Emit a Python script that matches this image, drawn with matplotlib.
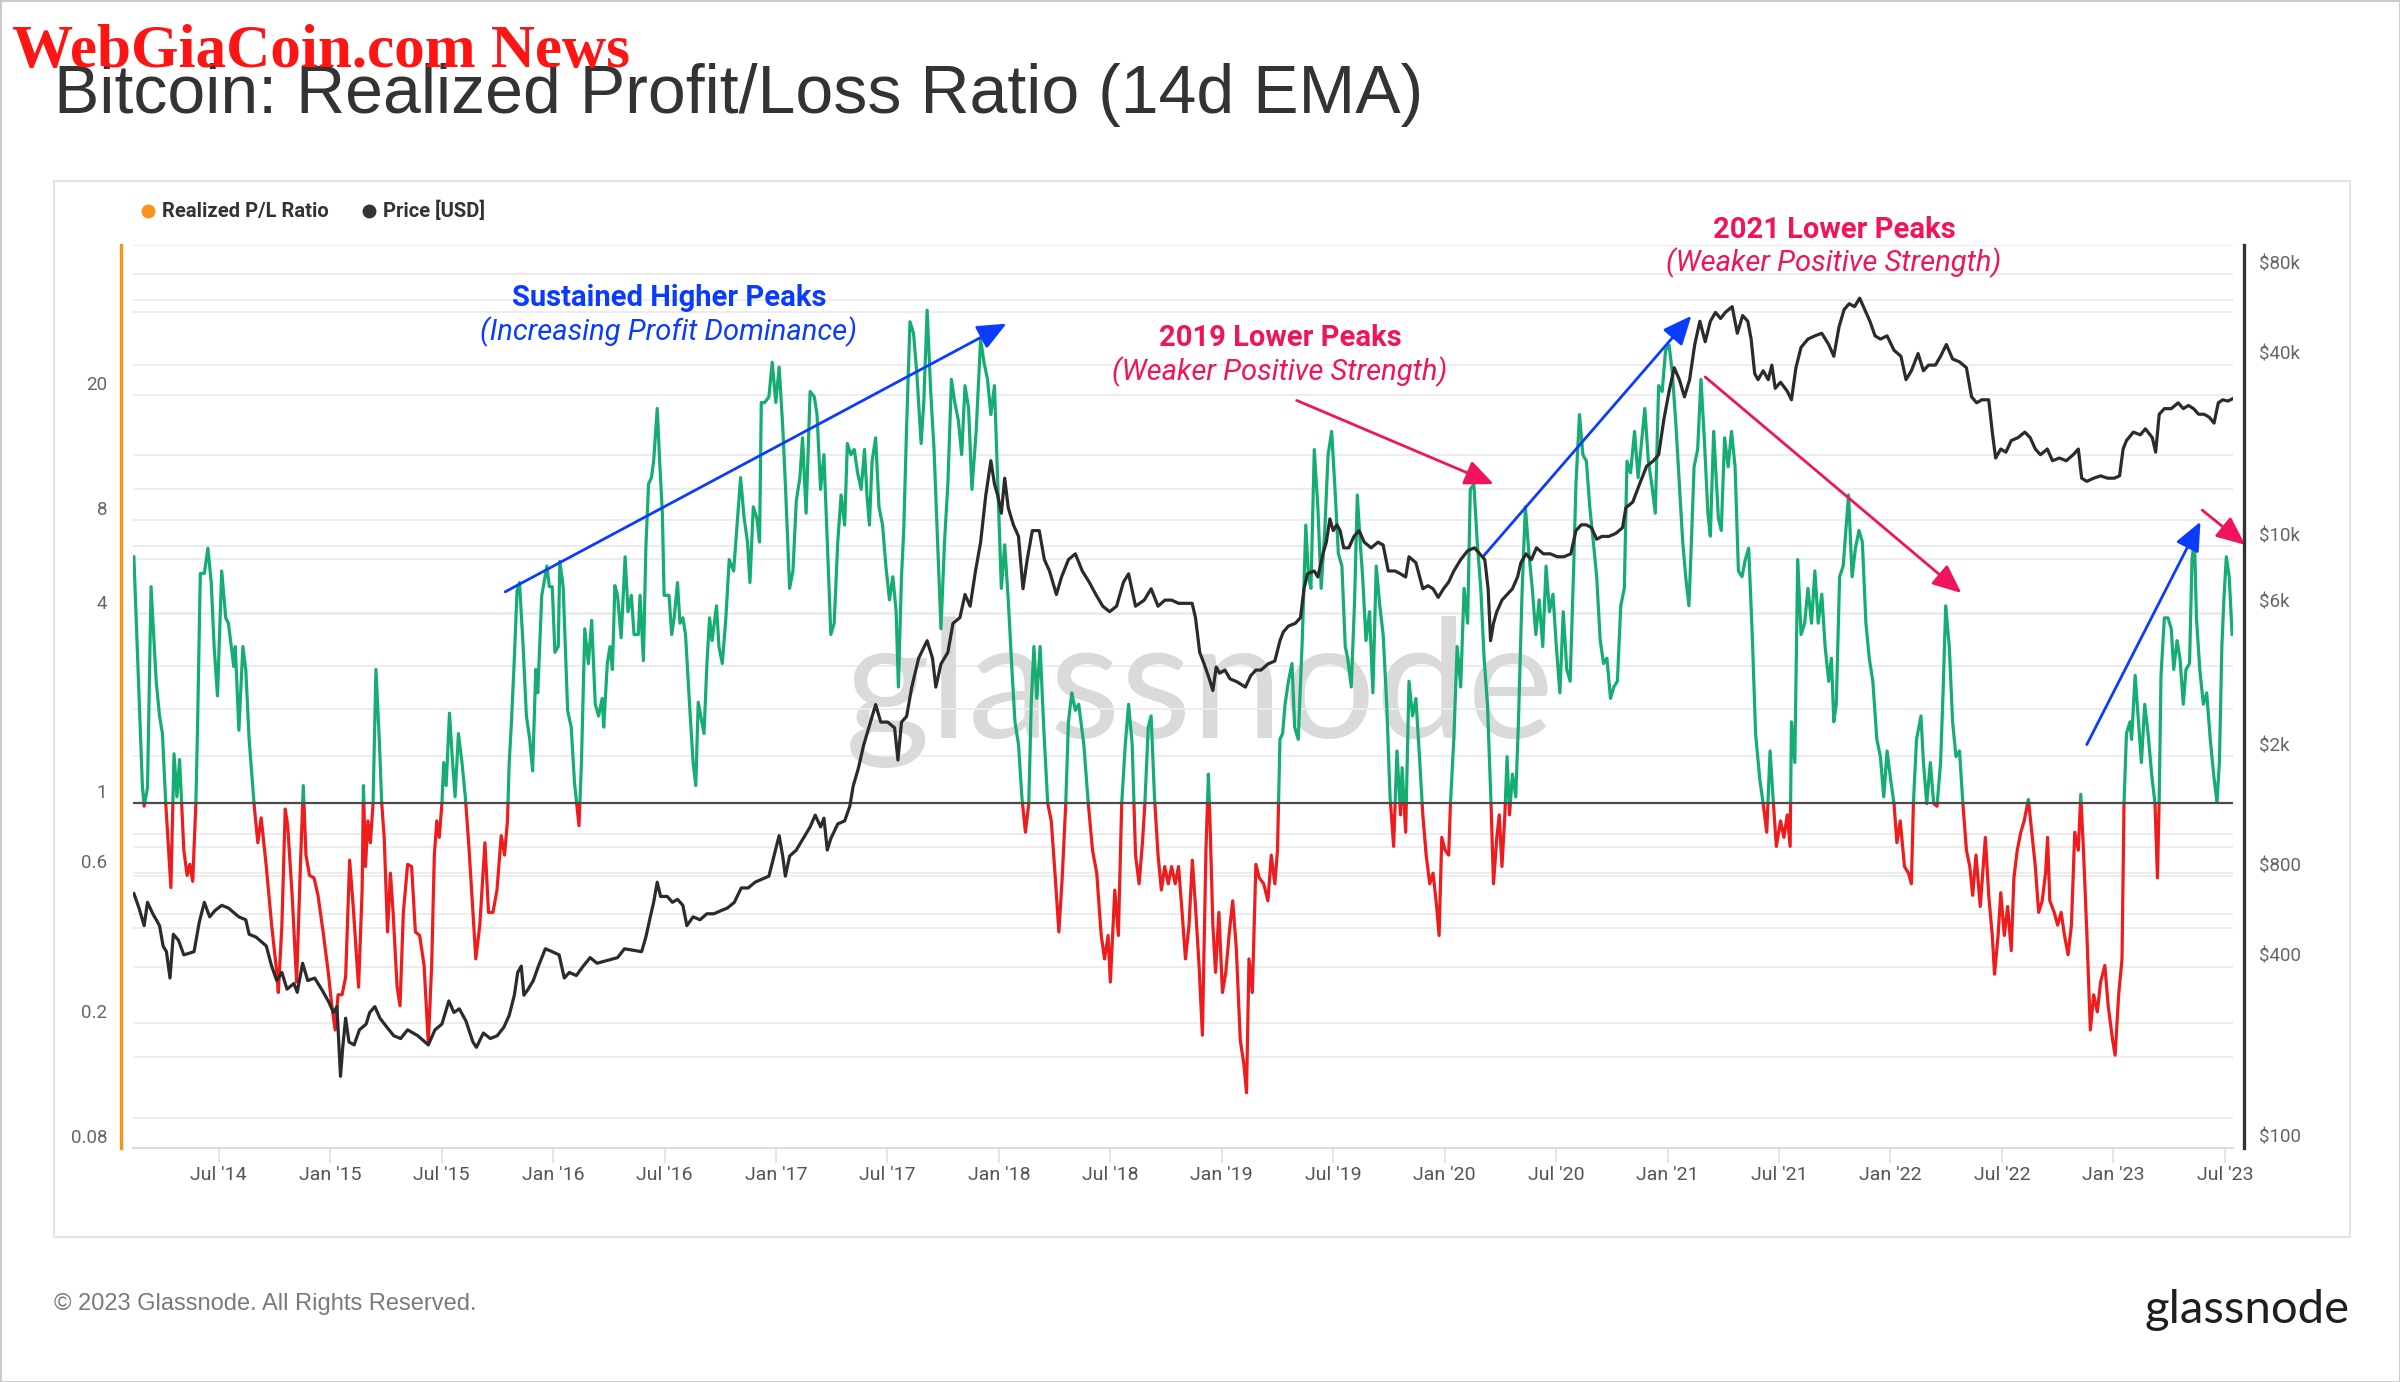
import numpy as np
import matplotlib
matplotlib.use('Agg')
import matplotlib.pyplot as plt
from matplotlib import transforms
from matplotlib.patches import Rectangle
from matplotlib.lines import Line2D

# Realized P/L ratio (14d EMA): (decimal year, ratio)
ratio_pts = [
    (2014.119, 6.1), (2014.157, 1.14), (2014.165, 0.98), (2014.180, 1.12), (2014.196, 4.9), (2014.219, 2.45),
    (2014.234, 1.9), (2014.247, 1.67), (2014.262, 1.0), (2014.285, 0.54), (2014.299, 1.44), (2014.312, 1.05),
    (2014.324, 1.38), (2014.343, 0.71), (2014.358, 0.59), (2014.370, 0.64), (2014.383, 0.565), (2014.397, 1.0),
    (2014.404, 1.67), (2014.417, 5.4), (2014.435, 5.4), (2014.451, 6.5), (2014.466, 5.05), (2014.479, 3.16),
    (2014.494, 2.2), (2014.513, 5.5), (2014.531, 3.9), (2014.543, 3.75), (2014.567, 2.73), (2014.574, 3.16),
    (2014.590, 1.71), (2014.608, 3.16), (2014.621, 2.67), (2014.636, 1.6), (2014.659, 0.98), (2014.675, 0.75),
    (2014.690, 0.90), (2014.713, 0.63), (2014.737, 0.41), (2014.760, 0.29), (2014.767, 0.25), (2014.783, 0.41),
    (2014.798, 0.96), (2014.809, 0.85), (2014.829, 0.51), (2014.849, 0.27), (2014.865, 0.60), (2014.879, 1.14),
    (2014.891, 0.685), (2014.907, 0.59), (2014.927, 0.58), (2014.945, 0.51), (2014.968, 0.39), (2014.991, 0.29),
    (2015.007, 0.227), (2015.022, 0.19), (2015.035, 0.246), (2015.053, 0.246), (2015.069, 0.28), (2015.087, 0.66),
    (2015.103, 0.47), (2015.127, 0.26), (2015.143, 0.53), (2015.149, 1.14), (2015.158, 0.63), (2015.169, 0.88),
    (2015.180, 0.75), (2015.192, 1.0), (2015.205, 2.67), (2015.220, 1.6), (2015.231, 1.0), (2015.242, 0.78),
    (2015.257, 0.39), (2015.270, 0.60), (2015.282, 0.45), (2015.300, 0.26), (2015.313, 0.227), (2015.328, 0.45),
    (2015.347, 0.64), (2015.365, 0.63), (2015.382, 0.39), (2015.401, 0.38), (2015.421, 0.305), (2015.440, 0.172),
    (2015.455, 0.305), (2015.467, 0.685), (2015.478, 0.88), (2015.489, 0.78), (2015.501, 1.0), (2015.509, 1.35),
    (2015.520, 1.14), (2015.535, 1.94), (2015.548, 1.38), (2015.560, 1.05), (2015.575, 1.67), (2015.591, 1.35),
    (2015.606, 1.05), (2015.622, 0.73), (2015.640, 0.45), (2015.653, 0.32), (2015.671, 0.41), (2015.694, 0.75),
    (2015.710, 0.45), (2015.730, 0.45), (2015.748, 0.53), (2015.767, 0.79), (2015.782, 0.685), (2015.795, 0.88),
    (2015.803, 1.35), (2015.813, 1.82), (2015.826, 2.9), (2015.838, 4.74), (2015.849, 5.05), (2015.864, 3.3),
    (2015.880, 1.9), (2015.895, 1.6), (2015.908, 1.27), (2015.922, 2.67), (2015.931, 2.25), (2015.949, 4.6),
    (2015.972, 5.7), (2015.983, 4.9), (2015.996, 4.9), (2016.008, 3.03), (2016.023, 3.16), (2016.030, 5.9),
    (2016.045, 4.9), (2016.065, 1.98), (2016.081, 1.75), (2016.096, 1.16), (2016.107, 0.98), (2016.116, 0.85),
    (2016.127, 1.35), (2016.142, 3.6), (2016.158, 2.79), (2016.173, 3.83), (2016.189, 2.07), (2016.204, 1.9),
    (2016.220, 2.16), (2016.227, 1.75), (2016.243, 2.79), (2016.255, 3.16), (2016.266, 2.67), (2016.277, 4.94),
    (2016.289, 4.6), (2016.305, 3.37), (2016.323, 6.1), (2016.336, 4.08), (2016.351, 4.6), (2016.363, 3.45),
    (2016.382, 3.45), (2016.390, 4.6), (2016.405, 2.85), (2016.416, 6.5), (2016.428, 10.4), (2016.441, 10.9),
    (2016.451, 12.3), (2016.467, 18.1), (2016.478, 12.3), (2016.490, 8.4), (2016.498, 4.6),
    (2016.520, 4.6), (2016.532, 3.45), (2016.543, 3.9), (2016.558, 5.05), (2016.569, 3.75), (2016.582, 3.9),
    (2016.594, 3.45), (2016.612, 2.07), (2016.628, 1.35), (2016.640, 1.14), (2016.651, 2.1), (2016.667, 1.82),
    (2016.677, 1.67), (2016.690, 2.79), (2016.702, 3.9), (2016.713, 3.3), (2016.733, 4.26), (2016.744, 3.16),
    (2016.759, 2.79), (2016.775, 3.9), (2016.790, 5.98), (2016.810, 5.5), (2016.829, 8.4), (2016.841, 10.9),
    (2016.857, 8.1), (2016.872, 6.8), (2016.883, 5.05), (2016.898, 8.8), (2016.914, 8.1), (2016.926, 6.8),
    (2016.934, 18.9), (2016.949, 18.9), (2016.968, 19.7), (2016.983, 25.4), (2016.999, 18.9), (2017.014, 24.5),
    (2017.030, 15.9), (2017.042, 10.4), (2017.061, 4.84), (2017.076, 5.5), (2017.091, 9.2), (2017.107, 10.9),
    (2017.119, 14.6), (2017.135, 8.4), (2017.153, 20.5), (2017.172, 19.7), (2017.184, 17.3), (2017.200, 10.0),
    (2017.215, 12.9), (2017.230, 6.8), (2017.246, 3.45), (2017.261, 3.75), (2017.277, 6.8), (2017.292, 9.6),
    (2017.308, 7.7), (2017.320, 14.0), (2017.336, 12.9), (2017.351, 13.4), (2017.366, 11.3), (2017.382, 10.0),
    (2017.397, 13.4), (2017.408, 9.6), (2017.419, 7.7), (2017.431, 12.3), (2017.447, 14.6), (2017.462, 8.8),
    (2017.478, 7.7), (2017.493, 5.7), (2017.509, 4.45), (2017.524, 5.27), (2017.539, 4.08), (2017.549, 2.35),
    (2017.563, 5.27), (2017.573, 7.4), (2017.586, 15.9), (2017.601, 34.2), (2017.617, 31.4), (2017.632, 23.3),
    (2017.651, 14.0), (2017.663, 18.9), (2017.678, 37.2), (2017.694, 20.5), (2017.709, 13.4), (2017.725, 6.8),
    (2017.740, 3.6), (2017.756, 6.8), (2017.771, 10.4), (2017.787, 22.4), (2017.802, 18.9), (2017.818, 16.6),
    (2017.833, 12.9), (2017.848, 21.4), (2017.864, 18.1), (2017.879, 10.0), (2017.898, 15.3), (2017.918, 30.1),
    (2017.933, 25.4), (2017.949, 22.4), (2017.964, 17.3), (2017.980, 21.4), (2017.995, 10.4), (2018.011, 4.84),
    (2018.026, 6.66), (2018.042, 4.45), (2018.057, 2.79), (2018.072, 1.82), (2018.088, 1.54), (2018.103, 1.05),
    (2018.119, 0.81), (2018.134, 1.0), (2018.145, 2.07), (2018.157, 3.16), (2018.170, 2.16), (2018.185, 3.16),
    (2018.201, 1.75), (2018.219, 1.0), (2018.235, 0.88), (2018.253, 0.58), (2018.269, 0.39), (2018.284, 0.58),
    (2018.300, 1.0), (2018.312, 1.82), (2018.327, 2.25), (2018.343, 1.98), (2018.358, 2.07), (2018.381, 1.54),
    (2018.401, 1.0), (2018.420, 0.71), (2018.439, 0.60), (2018.459, 0.38), (2018.474, 0.32), (2018.490, 0.38),
    (2018.500, 0.27), (2018.520, 0.53), (2018.536, 0.38), (2018.551, 1.0), (2018.567, 1.54), (2018.582, 2.07),
    (2018.598, 1.54), (2018.613, 0.685), (2018.629, 0.555), (2018.644, 0.75), (2018.655, 1.0), (2018.670, 1.75),
    (2018.683, 1.9), (2018.698, 1.05), (2018.714, 0.685), (2018.729, 0.53), (2018.744, 0.63), (2018.760, 0.555),
    (2018.775, 0.63), (2018.791, 0.555), (2018.806, 0.63), (2018.822, 0.45), (2018.837, 0.32), (2018.853, 0.41),
    (2018.868, 0.66), (2018.882, 0.47), (2018.898, 0.305), (2018.913, 0.183), (2018.929, 0.71), (2018.940, 1.24),
    (2018.947, 0.88), (2018.960, 0.41), (2018.972, 0.29), (2018.987, 0.45), (2019.003, 0.25), (2019.018, 0.29),
    (2019.034, 0.39), (2019.049, 0.49), (2019.065, 0.347), (2019.083, 0.176), (2019.099, 0.148), (2019.111, 0.12),
    (2019.122, 0.32), (2019.137, 0.25), (2019.153, 0.64), (2019.168, 0.58), (2019.188, 0.555), (2019.207, 0.49),
    (2019.222, 0.685), (2019.238, 0.555), (2019.250, 0.71), (2019.261, 1.6), (2019.273, 1.67), (2019.284, 2.07),
    (2019.299, 2.45), (2019.315, 2.79), (2019.327, 1.75), (2019.343, 1.6), (2019.361, 3.3), (2019.377, 7.7),
    (2019.389, 5.27), (2019.400, 4.84), (2019.415, 13.4), (2019.431, 8.8), (2019.446, 4.84), (2019.462, 7.4),
    (2019.477, 12.9), (2019.493, 15.3), (2019.508, 10.0), (2019.523, 6.25), (2019.539, 5.7), (2019.554, 3.16),
    (2019.565, 2.9), (2019.581, 2.35), (2019.596, 4.45), (2019.608, 9.6), (2019.621, 6.8), (2019.632, 5.27),
    (2019.647, 3.3), (2019.663, 4.08), (2019.678, 2.25), (2019.693, 5.7), (2019.709, 4.26), (2019.724, 3.45),
    (2019.740, 2.07), (2019.755, 1.05), (2019.771, 0.73), (2019.786, 1.47), (2019.802, 0.92), (2019.809, 1.3),
    (2019.825, 0.81), (2019.840, 2.45), (2019.856, 1.9), (2019.871, 2.16), (2019.887, 1.41), (2019.902, 0.92),
    (2019.917, 0.685), (2019.933, 0.555), (2019.948, 0.60), (2019.964, 0.47), (2019.975, 0.38), (2019.987, 0.78),
    (2020.002, 0.71), (2020.018, 0.685), (2020.026, 1.0), (2020.041, 1.6), (2020.056, 3.16), (2020.072, 2.35),
    (2020.087, 4.84), (2020.103, 3.75), (2020.115, 10.0), (2020.131, 10.4), (2020.146, 6.8), (2020.162, 4.84),
    (2020.177, 2.9), (2020.192, 2.07), (2020.208, 1.0), (2020.219, 0.555), (2020.234, 0.78), (2020.245, 0.92),
    (2020.257, 0.63), (2020.270, 0.92), (2020.280, 1.41), (2020.291, 0.92), (2020.304, 1.24), (2020.319, 1.05),
    (2020.331, 1.82), (2020.347, 4.64), (2020.362, 8.8), (2020.378, 6.25), (2020.393, 4.84), (2020.409, 3.45),
    (2020.424, 4.45), (2020.440, 3.16), (2020.455, 5.7), (2020.470, 4.08), (2020.486, 4.64), (2020.501, 3.16),
    (2020.517, 2.25), (2020.532, 4.08), (2020.548, 2.67), (2020.563, 2.45), (2020.579, 5.7), (2020.589, 10.4),
    (2020.605, 17.3), (2020.620, 12.9), (2020.636, 12.3), (2020.651, 8.8), (2020.667, 6.8), (2020.682, 5.27),
    (2020.698, 3.3), (2020.713, 2.79), (2020.728, 2.9), (2020.744, 2.16), (2020.759, 2.35), (2020.775, 2.45),
    (2020.790, 4.26), (2020.806, 4.84), (2020.818, 12.3), (2020.834, 11.3), (2020.852, 15.3), (2020.868, 10.9),
    (2020.883, 14.0), (2020.898, 18.1), (2020.914, 12.3), (2020.929, 10.4), (2020.945, 8.4), (2020.960, 21.4),
    (2020.976, 20.5), (2020.991, 27.7), (2021.007, 28.8), (2021.022, 23.3), (2021.038, 15.9), (2021.053, 10.4),
    (2021.068, 6.8), (2021.084, 5.05), (2021.096, 4.26), (2021.107, 6.8), (2021.119, 11.8), (2021.135, 13.4),
    (2021.150, 22.4), (2021.166, 14.0), (2021.181, 8.4), (2021.192, 7.1), (2021.207, 15.3),
    (2021.228, 8.1), (2021.241, 7.4), (2021.256, 14.6), (2021.272, 11.8), (2021.287, 15.3), (2021.303, 11.8),
    (2021.318, 5.5), (2021.334, 5.27), (2021.349, 5.98), (2021.364, 6.5), (2021.380, 3.45), (2021.395, 1.67),
    (2021.414, 1.19), (2021.429, 1.0), (2021.445, 0.81), (2021.460, 1.47), (2021.473, 1.05), (2021.488, 0.73),
    (2021.507, 0.88), (2021.522, 0.78), (2021.537, 0.92), (2021.550, 0.73), (2021.556, 1.82), (2021.571, 1.35),
    (2021.584, 5.98), (2021.599, 3.45), (2021.615, 3.75), (2021.630, 4.84), (2021.646, 3.75), (2021.661, 5.5),
    (2021.676, 3.75), (2021.692, 4.64), (2021.707, 3.16), (2021.723, 2.45), (2021.735, 2.9), (2021.746, 1.82),
    (2021.757, 2.07), (2021.772, 5.27), (2021.788, 5.7), (2021.800, 7.4), (2021.812, 9.6), (2021.828, 5.27),
    (2021.843, 6.5), (2021.859, 7.4), (2021.874, 6.8), (2021.890, 3.75), (2021.905, 2.9), (2021.921, 2.45),
    (2021.939, 1.6), (2021.955, 1.41), (2021.970, 1.05), (2021.985, 1.47), (2022.001, 1.19), (2022.016, 1.0),
    (2022.029, 0.75), (2022.044, 0.88), (2022.063, 0.63), (2022.081, 0.60), (2022.094, 0.555), (2022.103, 1.0),
    (2022.117, 1.6), (2022.137, 1.9), (2022.148, 1.35), (2022.163, 1.0), (2022.179, 1.35), (2022.194, 1.0),
    (2022.209, 0.98), (2022.225, 1.35), (2022.237, 2.35), (2022.248, 4.26), (2022.264, 3.16), (2022.279, 1.82),
    (2022.294, 1.41), (2022.310, 1.47), (2022.325, 1.0), (2022.341, 0.71), (2022.356, 0.63), (2022.369, 0.51),
    (2022.384, 0.685), (2022.403, 0.47), (2022.426, 0.78), (2022.441, 0.51), (2022.457, 0.38), (2022.467, 0.286),
    (2022.483, 0.38), (2022.495, 0.52), (2022.511, 0.38), (2022.526, 0.47), (2022.542, 0.34), (2022.554, 0.58),
    (2022.569, 0.71), (2022.585, 0.81), (2022.600, 0.88), (2022.619, 1.03), (2022.634, 0.81), (2022.650, 0.63),
    (2022.665, 0.45), (2022.681, 0.49), (2022.696, 0.60), (2022.705, 0.78), (2022.715, 0.49), (2022.735, 0.45),
    (2022.750, 0.41), (2022.766, 0.45), (2022.781, 0.38), (2022.797, 0.33), (2022.812, 0.41), (2022.827, 0.81),
    (2022.843, 0.71), (2022.854, 1.07), (2022.866, 0.71), (2022.881, 0.39), (2022.897, 0.19), (2022.912, 0.246),
    (2022.928, 0.217), (2022.943, 0.27), (2022.962, 0.305), (2022.977, 0.227), (2022.997, 0.176), (2023.008, 0.158),
    (2023.024, 0.246), (2023.039, 0.32), (2023.048, 1.0), (2023.059, 1.67), (2023.075, 1.82), (2023.082, 1.6),
    (2023.098, 2.56), (2023.113, 1.82), (2023.126, 1.35), (2023.141, 2.07), (2023.156, 1.67), (2023.172, 1.24),
    (2023.187, 1.0), (2023.198, 0.58), (2023.206, 1.05), (2023.214, 2.56), (2023.229, 3.9), (2023.245, 3.9),
    (2023.260, 3.6), (2023.271, 2.67), (2023.286, 3.3), (2023.299, 2.9), (2023.314, 2.07), (2023.326, 2.67),
    (2023.342, 2.79), (2023.353, 5.98), (2023.364, 7.0), (2023.373, 3.9), (2023.388, 2.67), (2023.404, 2.07),
    (2023.419, 2.25), (2023.435, 1.6), (2023.450, 1.24), (2023.465, 1.01), (2023.476, 1.35), (2023.487, 3.16),
    (2023.496, 4.45), (2023.507, 6.1), (2023.520, 5.27), (2023.533, 3.45),
]

# BTC price in USD: (decimal year, price)
price_pts = [
    (2014.119, 700), (2014.142, 627), (2014.165, 548), (2014.180, 655), (2014.204, 600), (2014.234, 548),
    (2014.250, 469), (2014.265, 449), (2014.281, 367), (2014.296, 513), (2014.319, 490), (2014.343, 438),
    (2014.389, 449), (2014.412, 561), (2014.435, 655), (2014.459, 586), (2014.482, 614), (2014.513, 640),
    (2014.543, 627), (2014.590, 586), (2014.621, 573), (2014.636, 513), (2014.667, 502), (2014.713, 469),
    (2014.737, 402), (2014.760, 360), (2014.783, 383), (2014.806, 337), (2014.837, 352), (2014.852, 329),
    (2014.876, 411), (2014.899, 360), (2014.930, 367), (2014.961, 337), (2014.991, 308), (2015.015, 282),
    (2015.030, 295), (2015.046, 173), (2015.056, 216), (2015.069, 270), (2015.084, 225), (2015.107, 220),
    (2015.131, 247), (2015.161, 258), (2015.177, 282), (2015.200, 295), (2015.223, 270), (2015.254, 252),
    (2015.285, 236), (2015.316, 231), (2015.347, 247), (2015.393, 236), (2015.440, 220), (2015.470, 247),
    (2015.501, 258), (2015.532, 308), (2015.555, 282), (2015.579, 290), (2015.609, 264), (2015.640, 225),
    (2015.656, 216), (2015.687, 241), (2015.718, 231), (2015.749, 236), (2015.779, 252), (2015.803, 276),
    (2015.826, 322), (2015.841, 383), (2015.857, 402), (2015.869, 322), (2015.888, 337), (2015.911, 360),
    (2015.934, 402), (2015.965, 459), (2015.996, 449), (2016.027, 438), (2016.050, 367), (2016.073, 383),
    (2016.104, 374), (2016.135, 402), (2016.166, 429), (2016.197, 411), (2016.243, 420), (2016.289, 429),
    (2016.320, 459), (2016.359, 454), (2016.397, 449), (2016.416, 502), (2016.436, 586), (2016.451, 655),
    (2016.467, 764), (2016.482, 685), (2016.512, 685), (2016.535, 655), (2016.558, 670), (2016.582, 640),
    (2016.600, 548), (2016.628, 586), (2016.659, 573), (2016.690, 600), (2016.721, 600), (2016.752, 614),
    (2016.782, 627), (2016.813, 655), (2016.844, 731), (2016.875, 731), (2016.906, 764), (2016.937, 782),
    (2016.968, 800), (2016.991, 933), (2017.014, 1091), (2017.030, 933), (2017.042, 800), (2017.061, 933),
    (2017.091, 977), (2017.122, 1067), (2017.153, 1166), (2017.176, 1276), (2017.200, 1166), (2017.215, 1247),
    (2017.230, 977), (2017.246, 1067), (2017.277, 1193), (2017.308, 1221), (2017.331, 1365), (2017.346, 1592),
    (2017.369, 1820), (2017.393, 2177), (2017.416, 2488), (2017.447, 2973), (2017.470, 2600), (2017.501, 2600),
    (2017.532, 2488), (2017.547, 1945), (2017.563, 2600), (2017.586, 2717), (2017.609, 3398), (2017.640, 4240),
    (2017.678, 4845), (2017.702, 4240), (2017.717, 3398), (2017.740, 4055), (2017.771, 4430), (2017.794, 5534),
    (2017.825, 5780), (2017.848, 6900), (2017.871, 6310), (2017.895, 8260), (2017.918, 10300), (2017.941, 14700),
    (2017.964, 19200), (2017.980, 16100), (2017.995, 14700), (2018.011, 12850), (2018.026, 16800), (2018.042, 13400),
    (2018.065, 11760), (2018.088, 10760), (2018.108, 7210), (2018.127, 9010), (2018.150, 11250), (2018.181, 11250),
    (2018.204, 9010), (2018.227, 8260), (2018.258, 6900), (2018.281, 7890), (2018.312, 9010), (2018.343, 9420),
    (2018.374, 8260), (2018.405, 7590), (2018.435, 6900), (2018.466, 6310), (2018.497, 6050), (2018.528, 6310),
    (2018.559, 7590), (2018.582, 8080), (2018.613, 6310), (2018.652, 6610), (2018.683, 7210), (2018.714, 6310),
    (2018.745, 6610), (2018.775, 6610), (2018.806, 6450), (2018.837, 6450), (2018.867, 6450), (2018.882, 5780),
    (2018.901, 4430), (2018.921, 4055), (2018.944, 3620), (2018.960, 3310), (2018.975, 3960), (2018.990, 3780),
    (2019.014, 3870), (2019.037, 3620), (2019.068, 3540), (2019.106, 3398), (2019.130, 3710), (2019.153, 3870),
    (2019.176, 3870), (2019.207, 4055), (2019.238, 4150), (2019.261, 4845), (2019.276, 5180), (2019.299, 5420),
    (2019.330, 5534), (2019.353, 5780), (2019.369, 7210), (2019.384, 8080), (2019.415, 8260), (2019.431, 7890),
    (2019.454, 9420), (2019.469, 10300), (2019.485, 12300), (2019.500, 11250), (2019.516, 11760), (2019.531, 11250),
    (2019.547, 9860), (2019.570, 9860), (2019.593, 10760), (2019.616, 11250), (2019.639, 10300), (2019.670, 9860),
    (2019.701, 10300), (2019.724, 10070), (2019.747, 8260), (2019.778, 8260), (2019.802, 8080), (2019.825, 7890),
    (2019.840, 9210), (2019.871, 8800), (2019.902, 7210), (2019.925, 7380), (2019.948, 7210), (2019.971, 6750),
    (2019.995, 7210), (2020.018, 7590), (2020.041, 8260), (2020.072, 9010), (2020.103, 9640), (2020.134, 9860),
    (2020.157, 9420), (2020.180, 9010), (2020.195, 7210), (2020.206, 4845), (2020.219, 5534), (2020.234, 6050),
    (2020.257, 6610), (2020.280, 6900), (2020.304, 7210), (2020.327, 7890), (2020.342, 8800), (2020.365, 9420),
    (2020.389, 9010), (2020.412, 9860), (2020.443, 9420), (2020.474, 9420), (2020.505, 9210), (2020.535, 9210),
    (2020.566, 9420), (2020.589, 11250), (2020.613, 11760), (2020.636, 11760), (2020.659, 11500), (2020.682, 10530),
    (2020.705, 10760), (2020.736, 10760), (2020.767, 11000), (2020.798, 11500), (2020.813, 13400), (2020.844, 14000),
    (2020.875, 16100), (2020.906, 18400), (2020.937, 19200), (2020.960, 20100), (2020.983, 26200), (2021.007, 32700),
    (2021.030, 39100), (2021.053, 35700), (2021.076, 31300), (2021.099, 35700), (2021.122, 46700), (2021.145, 55800),
    (2021.169, 47700), (2021.192, 55800), (2021.215, 59700), (2021.238, 57000), (2021.259, 59700), (2021.290, 62400),
    (2021.313, 50900), (2021.337, 58300), (2021.360, 55800), (2021.375, 48700), (2021.391, 37400), (2021.406, 35700),
    (2021.429, 38200), (2021.452, 35700), (2021.468, 39900), (2021.483, 33400), (2021.507, 35000), (2021.537, 32700),
    (2021.556, 30600), (2021.576, 39100), (2021.599, 45700), (2021.630, 48700), (2021.661, 49900), (2021.692, 50900),
    (2021.723, 46700), (2021.746, 42700), (2021.769, 53300), (2021.792, 61000), (2021.815, 63800), (2021.839, 62400),
    (2021.862, 66600), (2021.885, 61000), (2021.908, 55800), (2021.931, 49900), (2021.955, 48700), (2021.985, 49900),
    (2022.016, 44700), (2022.047, 42700), (2022.070, 35700), (2022.094, 38200), (2022.124, 43600), (2022.148, 38200),
    (2022.171, 39900), (2022.202, 39900), (2022.225, 42700), (2022.251, 46700), (2022.279, 41800), (2022.310, 40900),
    (2022.341, 39100), (2022.364, 31300), (2022.387, 29900), (2022.410, 30600), (2022.441, 30600), (2022.457, 23900),
    (2022.472, 19600), (2022.495, 21000), (2022.518, 20500), (2022.542, 22400), (2022.572, 22900), (2022.603, 23900),
    (2022.627, 22900), (2022.650, 21000), (2022.673, 20100), (2022.704, 21000), (2022.727, 19200), (2022.758, 19600),
    (2022.789, 19200), (2022.820, 20100), (2022.843, 21000), (2022.858, 16800), (2022.881, 16400), (2022.912, 16800),
    (2022.943, 17100), (2022.974, 16800), (2023.005, 16800), (2023.028, 17100), (2023.044, 21000), (2023.059, 22400),
    (2023.090, 23900), (2023.121, 23400), (2023.144, 24500), (2023.175, 22900), (2023.190, 20500), (2023.206, 27400),
    (2023.229, 28600), (2023.260, 28600), (2023.291, 29900), (2023.314, 28600), (2023.337, 29300), (2023.360, 28600),
    (2023.383, 27400), (2023.407, 27400), (2023.430, 26800), (2023.452, 25600), (2023.471, 29900), (2023.491, 30600),
    (2023.514, 30300), (2023.533, 30800),
]

x_labels = ["Jul '14", "Jan '15", "Jul '15", "Jan '16", "Jul '16", "Jan '17", "Jul '17", "Jan '18",
            "Jul '18", "Jan '19", "Jul '19", "Jan '20", "Jul '20", "Jan '21", "Jul '21", "Jan '22",
            "Jul '22", "Jan '23", "Jul '23"]
ratio_grid = [40, 20, 10, 8, 6, 4, 2, 1, 0.8, 0.6, 0.4, 0.2, 0.1, 0.08]
ratio_labels = {20: '20', 8: '8', 4: '4', 1: '1', 0.6: '0.6', 0.2: '0.2', 0.08: '0.08'}
price_grid = [100000, 80000, 60000, 40000, 20000, 10000, 6000, 4000, 2000, 1000, 800, 600, 400, 200, 100]
price_labels = {80000: '$80k', 40000: '$40k', 10000: '$10k', 6000: '$6k', 2000: '$2k',
                800: '$800', 400: '$400', 100: '$100'}

# annotation arrows: (start, end) in (year, ratio)
blue_arrows = [((2015.785, 4.72), (2018.034, 33.7)),
               ((2020.172, 6.11), (2021.107, 35.7)),
               ((2022.881, 1.54), (2023.391, 7.89))]
pink_arrows = [((2019.336, 19.2), (2020.220, 10.4)),
               ((2021.169, 22.8), (2022.318, 4.68)),
               ((2023.399, 8.59), (2023.592, 6.66))]

t_ratio, ratio = np.array(ratio_pts).T
t_price, price = np.array(price_pts).T

W, H = 2400, 1382
RATIO_LIM = (0.0805, 60)
PRICE_LIM = (100, 100000)
GREEN, RED = '#16ad72', '#ee1c1c'
BLUE, PINK = '#0a3cff', '#f0145a'
TICK_FONT = 'Roboto'


def fx(px):
    return px / W


def fy(py):
    return 1 - py / H


fig = plt.figure(figsize=(W / 100, H / 100), dpi=100)
fig.patch.set_facecolor('white')

ax = fig.add_axes([fx(133), fy(1148), (2233 - 133) / W, (1148 - 245) / H])
axp = ax.twinx()

# ratio axis
ax.set_yscale('log')
ax.set_ylim(*RATIO_LIM)
ax.set_xlim(2014.115, 2023.537)
ax.set_yticks(ratio_grid)
ax.set_yticklabels([])
ax.minorticks_off()
ax.grid(axis='y', color='#ececec', lw=1.3, zorder=0)
ax.tick_params(axis='y', length=0)

# y labels sit a little above their gridlines, as on glassnode charts
left_tr = transforms.blended_transform_factory(ax.transAxes, ax.transData) + \
    transforms.ScaledTranslation(-0.26, 0.10, fig.dpi_scale_trans)
for v, s in ratio_labels.items():
    ax.text(0, v, s, transform=left_tr, ha='right', va='center', fontsize=13.5,
            color='#666666', family=TICK_FONT, clip_on=False)

x_ticks = 2014.5 + 0.5 * np.arange(len(x_labels))
ax.set_xticks(x_ticks, labels=x_labels)
ax.tick_params(axis='x', length=11, width=1.2, color='#e0e0e0', pad=2,
               labelsize=14, labelcolor='#555555')
for lab in ax.get_xticklabels():
    lab.set_fontfamily(TICK_FONT)

for side in ['top', 'right']:
    ax.spines[side].set_visible(False)
ax.spines['left'].set_color('#f7931a')
ax.spines['left'].set_linewidth(2.4)
ax.spines['left'].set_position(('outward', 9))
ax.spines['bottom'].set_color('#dcdcdc')
ax.spines['bottom'].set_linewidth(1.5)

# price gridlines live on the lower axes so they stay under every line
lo, hi = np.log10(PRICE_LIM)
for p in price_grid:
    f = (np.log10(p) - lo) / (hi - lo)
    ax.plot([0, 1], [f, f], transform=ax.transAxes, color='#ececec', lw=1.3, zorder=0)

ax.text(0.508, 0.505, 'glassnode', transform=ax.transAxes, ha='center', va='center',
        fontsize=118, color='#dadada', family='Lato', zorder=0.5)

# ratio line, green above 1 and red below
blend = transforms.blended_transform_factory(ax.transAxes, ax.transData)
green, = ax.plot(t_ratio, ratio, color=GREEN, lw=2.3, zorder=2, solid_joinstyle='round')
red, = ax.plot(t_ratio, ratio, color=RED, lw=2.3, zorder=2, solid_joinstyle='round')
green.set_clip_path(Rectangle((0, 1), 1, 1000, transform=blend))
red.set_clip_path(Rectangle((0, 1e-4), 1, 1 - 1e-4, transform=blend))
ax.axhline(1, color='#4a4a4a', lw=1.6, zorder=3)

for (a, b), col in [(ab, BLUE) for ab in blue_arrows] + [(ab, PINK) for ab in pink_arrows]:
    ax.annotate('', xy=b, xytext=a, annotation_clip=False, zorder=4,
                arrowprops=dict(arrowstyle='-|>,head_length=0.8,head_width=0.35', color=col,
                                lw=2.0, mutation_scale=22, shrinkA=0, shrinkB=0, clip_on=False))

# price axis
axp.set_yscale('log')
axp.set_ylim(*PRICE_LIM)
axp.plot(t_price, price, color='#2b2b2b', lw=2.3, zorder=3)
axp.set_yticks([])
axp.minorticks_off()
right_tr = transforms.blended_transform_factory(axp.transAxes, axp.transData) + \
    transforms.ScaledTranslation(0.26, 0.10, fig.dpi_scale_trans)
for v, s in price_labels.items():
    axp.text(1, v, s, transform=right_tr, ha='left', va='center', fontsize=13.5,
             color='#666666', family=TICK_FONT, clip_on=False)
for side in ['left', 'top', 'bottom']:
    axp.spines[side].set_visible(False)
axp.spines['right'].set_color('#333333')
axp.spines['right'].set_linewidth(2.4)
axp.spines['right'].set_position(('outward', 8))

# annotation labels
notes = [
    (669, 298, 332, 'Sustained Higher Peaks', '(Increasing Profit Dominance)', BLUE),
    (1280, 338, 372, '2019 Lower Peaks', '(Weaker Positive Strength)', PINK),
    (1834, 230, 263, '2021 Lower Peaks', '(Weaker Positive Strength)', PINK),
]
for x, y1, y2, head, sub, col in notes:
    fig.text(fx(x), fy(y1), head, ha='center', va='center', fontsize=21, fontweight='bold',
             color=col, family='Roboto')
    fig.text(fx(x), fy(y2), sub, ha='center', va='center', fontsize=21, style='italic',
             color=col, family='Roboto')

# panel frame, legend, title, footer
fig.add_artist(Rectangle((fx(54), fy(1237)), (2350 - 54) / W, (1237 - 181) / H,
                         transform=fig.transFigure, fill=False, ec='#e4e4e4', lw=1.5))
fig.add_artist(Rectangle((0, 0), 1, 1, transform=fig.transFigure, fill=False,
                         ec='#c8c8c8', lw=2))

for x, col, txt in [(148, '#f7931a', 'Realized P/L Ratio'), (369, '#333333', 'Price [USD]')]:
    fig.add_artist(Line2D([fx(x)], [fy(211)], marker='o', ms=9, color=col,
                          transform=fig.transFigure))
    fig.text(fx(x + 14), fy(211), txt, va='center', fontsize=14.5, fontweight='bold',
             color='#333333', family='Roboto')

fig.text(fx(54), fy(95), 'Bitcoin: Realized Profit/Loss Ratio (14d EMA)', va='center',
         fontsize=49, color='#333333', family='Liberation Sans')
fig.text(fx(12), fy(52), 'WebGiaCoin.com News', va='center', fontsize=44, color='#ff1414',
         family='Liberation Serif', fontweight='bold')

fig.text(fx(54), fy(1304), '\u00a9 2023 Glassnode. All Rights Reserved.', va='center',
         fontsize=17, color='#7a7a7a', family='Liberation Sans')
fig.text(fx(2350), fy(1310), 'glassnode', ha='right', va='center', fontsize=34,
         color='#1e1e1e', family='Lato')

fig.savefig('out.png', dpi=100, facecolor='white')
